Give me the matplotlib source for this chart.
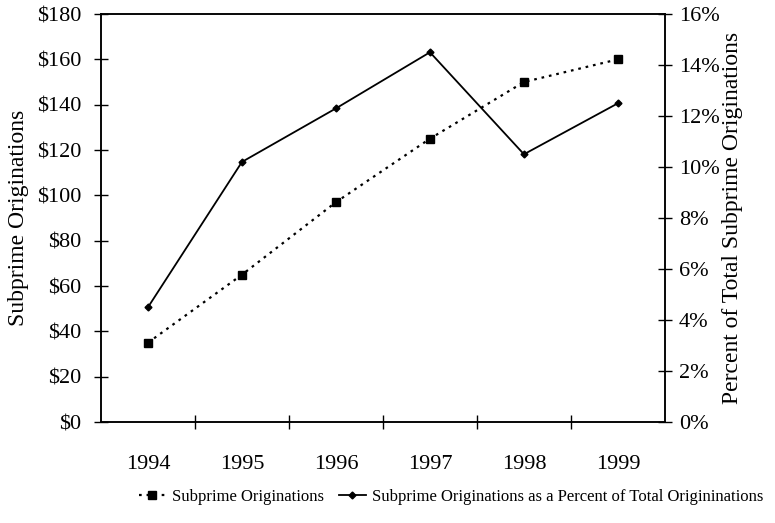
import matplotlib.pyplot as plt
from matplotlib.ticker import FuncFormatter

plt.rcParams['font.family'] = ['Liberation Serif', 'DejaVu Serif']

years = ['1994', '1995', '1996', '1997', '1998', '1999']
originations = [35, 65, 97, 125, 150, 160]            # $ billions
pct_of_total = [4.5, 10.2, 12.3, 14.5, 10.5, 12.5]    # percent

fig = plt.figure(figsize=(7.75, 5.23), dpi=100)
ax = fig.add_axes([0.1303, 0.1931, 0.7277, 0.7801])
ax2 = ax.twinx()

x = list(range(len(years)))
l1, = ax.plot(x, originations, color='black', ls=(0, (1.2, 2.2)), lw=1.6,
              marker='s', ms=6, label='Subprime Originations')
l2, = ax2.plot(x, pct_of_total, color='black', ls='-', lw=1.3,
               marker='D', ms=3.5, label='Subprime Originations as a Percent of Total Origininations')

ax.set_xlim(-0.5, len(years) - 0.5)
ax.set_ylim(0, 180)
ax2.set_ylim(0, 16)
ax.set_yticks(range(0, 181, 20))
ax2.set_yticks(range(0, 17, 2))
ax.yaxis.set_major_formatter(FuncFormatter(lambda v, p: f'${v:.0f}'))
ax2.yaxis.set_major_formatter(FuncFormatter(lambda v, p: f'{v:.0f}%'))

# category axis: ticks between the years, labels at the centres
ax.set_xticks([i + 0.5 for i in x[:-1]])
ax.set_xticklabels([])
ax.set_xticks(x, minor=True)
ax.set_xticklabels(years, minor=True)
ax.tick_params(axis='x', which='minor', length=0, pad=24, labelsize=16)
ax.tick_params(axis='x', which='major', direction='inout', length=10, width=1)
ax.tick_params(axis='y', direction='inout', length=10, width=1, labelsize=16, pad=9)
ax2.tick_params(axis='y', direction='inout', length=10, width=1, labelsize=16, pad=5)

for a in (ax, ax2):
    for s in a.spines.values():
        s.set_linewidth(1.1)

ax.set_ylabel('Subprime Originations', fontsize=17, labelpad=6)
ax2.set_ylabel('Percent of Total Subprime Originations', fontsize=17, labelpad=2)

fig.legend(handles=[l1, l2], loc='center', bbox_to_anchor=(0.582, 0.05), ncol=2,
           frameon=False, fontsize=12, handlelength=1.6, handletextpad=0.4,
           columnspacing=0.9)

fig.savefig('out.png', dpi=100)
